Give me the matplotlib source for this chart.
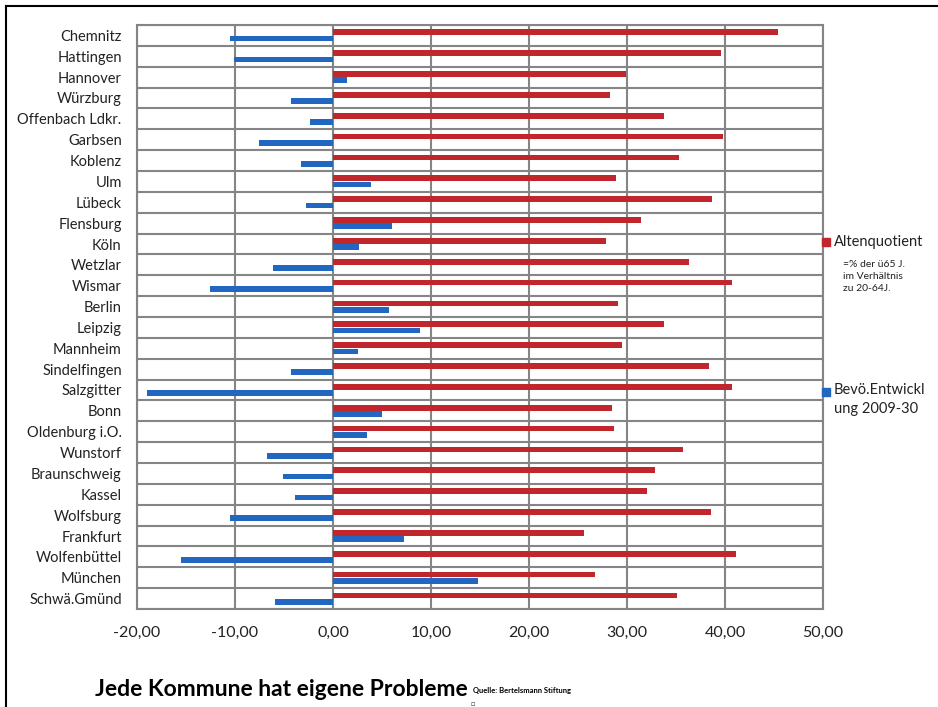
import numpy as np
import matplotlib.pyplot as plt
from matplotlib.lines import Line2D

plt.rcParams['font.family'] = ['Lato', 'DejaVu Sans']

# Städte von oben nach unten
staedte = ['Chemnitz', 'Hattingen', 'Hannover', 'Würzburg', 'Offenbach Ldkr.',
           'Garbsen', 'Koblenz', 'Ulm', 'Lübeck', 'Flensburg', 'Köln', 'Wetzlar',
           'Wismar', 'Berlin', 'Leipzig', 'Mannheim', 'Sindelfingen', 'Salzgitter',
           'Bonn', 'Oldenburg i.O.', 'Wunstorf', 'Braunschweig', 'Kassel',
           'Wolfsburg', 'Frankfurt', 'Wolfenbüttel', 'München', 'Schwä.Gmünd']

# Altenquotient (% der über 65-Jährigen im Verhältnis zu 20-64 J.)
altenquotient = [45.4, 39.6, 29.9, 28.3, 33.8, 39.8, 35.3, 28.9, 38.7, 31.4,
                 27.9, 36.3, 40.7, 29.1, 33.8, 29.5, 38.4, 40.7, 28.5, 28.7,
                 35.7, 32.9, 32.0, 38.6, 25.6, 41.1, 26.7, 35.1]

# Bevölkerungsentwicklung 2009-2030 in %
bev_entwicklung = [-10.5, -10.1, 1.4, -4.3, -2.3, -7.6, -3.3, 3.9, -2.8, 6.0,
                   2.7, -6.1, -12.6, 5.7, 8.9, 2.5, -4.3, -19.0, 5.0, 3.5,
                   -6.7, -5.1, -3.9, -10.5, 7.2, -15.5, 14.8, -5.9]

x_ticks = [-20, -10, 0, 10, 20, 30, 40, 50]

rot = '#C0262C'
blau = '#2166C0'
grau = '#858585'
text_farbe = '#222222'

fig = plt.figure(figsize=(9.38, 7.07), dpi=100)
ax = fig.add_axes([137 / 938, 1 - 609 / 707, 686 / 938, 584 / 707])

y = np.arange(len(staedte))
ax.barh(y - 0.15, altenquotient, height=0.27, color=rot, zorder=3)
ax.barh(y + 0.15, bev_entwicklung, height=0.27, color=blau, zorder=3)

ax.set_xlim(-20, 50)
ax.set_ylim(len(staedte) - 0.5, -0.5)

# Gitter: senkrecht bei jedem Teilstrich, waagerecht zwischen den Städten
for xv in x_ticks:
    ax.axvline(xv, color=grau, lw=1.5, zorder=1)
for yv in np.arange(len(staedte) + 1) - 0.5:
    ax.axhline(yv, color=grau, lw=1.5, zorder=1)
for s in ax.spines.values():
    s.set_color(grau)
    s.set_linewidth(1.5)

ax.set_yticks(y)
ax.set_yticklabels(staedte, fontsize=10.5, color=text_farbe)
ax.set_xticks(x_ticks)
ax.set_xticklabels([f'{v:.2f}'.replace('.', ',') for v in x_ticks],
                   fontsize=11.5, color=text_farbe)
ax.tick_params(axis='y', length=0, pad=11)
ax.tick_params(axis='x', length=0, pad=12)

# Legende rechts neben dem Diagramm
fig.add_artist(Line2D([826 / 938], [1 - 242 / 707], marker='s', markersize=5.5,
                      color=rot, lw=0, transform=fig.transFigure))
fig.text(834 / 938, 1 - 242 / 707, 'Altenquotient', fontsize=10.5,
         color=text_farbe, va='center', ha='left')
fig.text(843 / 938, 1 - 260 / 707, '=% der ü65 J.\nim Verhältnis\nzu 20-64J.',
         fontsize=7.5, color=text_farbe, va='top', ha='left', linespacing=1.45)
fig.add_artist(Line2D([826 / 938], [1 - 392 / 707], marker='s', markersize=5.5,
                      color=blau, lw=0, transform=fig.transFigure))
fig.text(834 / 938, 1 - 383 / 707, 'Bevö.Entwickl\nung 2009-30', fontsize=10.5,
         color=text_farbe, va='top', ha='left', linespacing=1.45)

# Titel und Quelle
fig.text(95 / 938, 1 - 690 / 707, 'Jede Kommune hat eigene Probleme',
         fontsize=16.5, fontweight='bold', color='black', va='center', ha='left')
fig.text(473 / 938, 1 - 691 / 707, 'Quelle: Bertelsmann Stiftung',
         fontsize=5.5, fontweight='bold', color='black', va='center', ha='left')
fig.text(473 / 938, 1 - 703 / 707, '□', fontsize=5, color='#444444',
         va='center', ha='center')

# Rahmen oben und links
fig.add_artist(Line2D([6 / 938, 1], [1 - 6 / 707, 1 - 6 / 707], color='black',
                      lw=1.5, transform=fig.transFigure))
fig.add_artist(Line2D([6 / 938, 6 / 938], [1 - 6 / 707, 0], color='black',
                      lw=1.5, transform=fig.transFigure))

fig.savefig('out.png', dpi=100)
